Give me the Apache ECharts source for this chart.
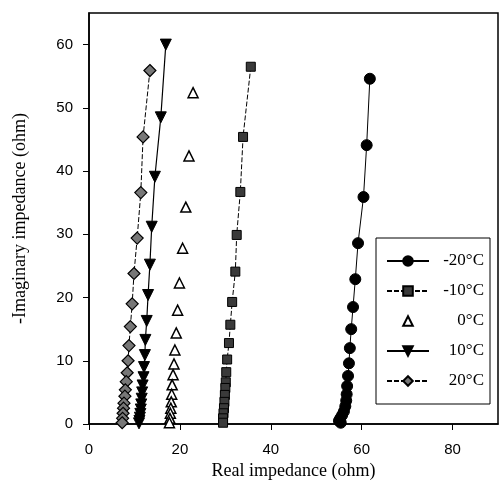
<!DOCTYPE html>
<html>
<head>
<meta charset="utf-8">
<script src="https://cdn.jsdelivr.net/npm/echarts@6/dist/echarts.min.js"></script>
<style>html,body{margin:0;padding:0;background:#fff;}#c{width:499px;height:489px;}</style>
</head>
<body>
<div id="c"></div>
<script>
var seriesNames = ['-20°C', '-10°C', '0°C', '10°C', '20°C'];
var xTicks = [0, 20, 40, 60, 80];
var yTicks = [0, 10, 20, 30, 40, 50, 60];

var m20x = [61.8, 61.1, 60.4, 59.2, 58.6, 58.1, 57.7, 57.4, 57.2, 57.0, 56.8, 56.7, 56.6, 56.4, 56.1, 55.7, 55.3, 55.0, 55.4];
var m20y = [54.6, 44.1, 35.9, 28.6, 22.9, 18.5, 15.0, 12.0, 9.6, 7.6, 6.0, 4.7, 3.7, 2.8, 2.0, 1.4, 0.9, 0.5, 0.2];

var m10x = [35.6, 33.9, 33.3, 32.5, 32.2, 31.5, 31.1, 30.8, 30.4, 30.2, 30.1, 30.0, 29.9, 29.8, 29.7, 29.6, 29.5, 29.5];
var m10y = [56.5, 45.4, 36.7, 29.9, 24.1, 19.3, 15.7, 12.8, 10.2, 8.2, 6.6, 5.7, 4.6, 3.5, 2.5, 1.7, 0.9, 0.2];

var p0x = [22.9, 22.0, 21.3, 20.6, 19.9, 19.5, 19.2, 18.9, 18.7, 18.5, 18.3, 18.2, 18.1, 18.0, 17.9, 17.8, 17.7];
var p0y = [52.4, 42.4, 34.3, 27.8, 22.3, 18.0, 14.4, 11.7, 9.5, 7.8, 6.2, 4.7, 3.5, 2.5, 1.7, 0.9, 0.2];

var p10x = [16.9, 15.8, 14.5, 13.8, 13.4, 13.0, 12.7, 12.4, 12.3, 12.1, 12.0, 11.8, 11.7, 11.6, 11.5, 11.4, 11.3, 11.2, 11.1, 11.0];
var p10y = [60.0, 48.5, 39.1, 31.2, 25.2, 20.4, 16.3, 13.3, 10.9, 9.0, 7.4, 6.1, 5.0, 4.0, 3.1, 2.3, 1.6, 1.0, 0.5, 0.1];

var p20x = [13.4, 11.9, 11.4, 10.6, 9.9, 9.5, 9.1, 8.8, 8.6, 8.4, 8.2, 8.0, 7.9, 7.7, 7.6, 7.5, 7.4, 7.3];
var p20y = [55.9, 45.4, 36.6, 29.4, 23.8, 19.0, 15.4, 12.4, 10.0, 8.1, 6.7, 5.4, 4.4, 3.3, 2.5, 1.7, 0.9, 0.2];

function zip(xs, ys) { return xs.map(function (v, i) { return [v, ys[i]]; }); }

var chart = echarts.init(document.getElementById('c'), null, {renderer: 'canvas'});
var tickFont = {fontFamily: 'Liberation Sans, Arial, sans-serif', fontSize: 15, color: '#000'};
var serif = 'Liberation Serif, Times New Roman, serif';

chart.setOption({
  animation: false,
  backgroundColor: '#fff',
  grid: {left: 89, right: 1, top: 13, bottom: 65, show: true, borderColor: '#000', borderWidth: 1.5, backgroundColor: 'transparent'},
  xAxis: {
    type: 'value', min: 0, max: 90, interval: 20,
    name: 'Real impedance (ohm)', nameLocation: 'middle', nameGap: 32,
    nameTextStyle: {fontFamily: serif, fontSize: 18, color: '#000'},
    axisLine: {onZero: false, lineStyle: {color: '#000', width: 1.5}},
    axisTick: {show: true, inside: false, length: 6, customValues: xTicks, lineStyle: {color: '#000', width: 1}},
    axisLabel: Object.assign({margin: 18, customValues: xTicks}, tickFont),
    splitLine: {show: false}
  },
  yAxis: {
    type: 'value', min: 0, max: 65, interval: 10,
    name: '-Imaginary impedance (ohm)', nameLocation: 'middle', nameGap: 60,
    nameTextStyle: {fontFamily: serif, fontSize: 18, color: '#000'},
    axisLine: {onZero: false, lineStyle: {color: '#000', width: 1.5}},
    axisTick: {show: true, inside: false, length: 6, customValues: yTicks, lineStyle: {color: '#000', width: 1}},
    axisLabel: Object.assign({margin: 16, customValues: yTicks}, tickFont),
    splitLine: {show: false}
  },
  legend: {
    orient: 'vertical', left: 376, top: 238,
    padding: [14, 6, 14, 10],
    itemWidth: 42, itemHeight: 12, itemGap: 12,
    borderColor: '#000', borderWidth: 1, backgroundColor: '#fff',
    data: seriesNames,
    formatter: function (n) { return '{a|' + n + '}'; },
    textStyle: {fontFamily: serif, fontSize: 17, color: '#000', lineHeight: 18,
      rich: {a: {width: 50, align: 'right', fontFamily: serif, fontSize: 17, color: '#000', lineHeight: 18}}}
  },
  series: [
    {name: seriesNames[0], type: 'line', data: zip(m20x, m20y), symbol: 'circle', symbolSize: 11,
      itemStyle: {color: '#000', borderColor: '#000', borderWidth: 1},
      lineStyle: {color: '#000', width: 1, type: 'solid'}, z: 5},
    {name: seriesNames[1], type: 'line', data: zip(m10x, m10y), symbol: 'rect', symbolSize: 9,
      itemStyle: {color: '#3a3a3a', borderColor: '#000', borderWidth: 1},
      lineStyle: {color: '#000', width: 1, type: [5, 2]}, z: 5},
    {name: seriesNames[2], type: 'line', data: zip(p0x, p0y), symbol: 'triangle', symbolSize: 10,
      itemStyle: {color: '#fff', borderColor: '#000', borderWidth: 1.5},
      lineStyle: {color: '#000', width: 0, opacity: 0}, z: 5},
    {name: seriesNames[3], type: 'line', data: zip(p10x, p10y), symbol: 'triangle', symbolRotate: 180, symbolSize: 11,
      itemStyle: {color: '#000', borderColor: '#000', borderWidth: 1},
      lineStyle: {color: '#000', width: 1.2, type: 'solid'}, z: 5},
    {name: seriesNames[4], type: 'line', data: zip(p20x, p20y), symbol: 'diamond', symbolSize: 12,
      itemStyle: {color: '#777', borderColor: '#000', borderWidth: 1.2},
      lineStyle: {color: '#000', width: 1, type: [5, 2]}, z: 5}
  ]
});
</script>
</body>
</html>
